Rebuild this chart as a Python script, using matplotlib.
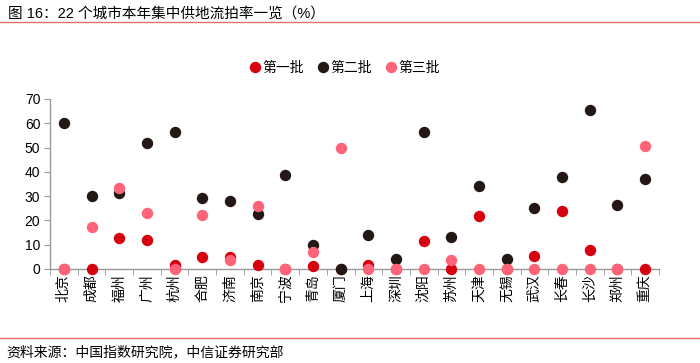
import numpy as np
import matplotlib
matplotlib.use("Agg")
import matplotlib.pyplot as plt
from matplotlib.lines import Line2D

plt.rcParams['font.family'] = ['Liberation Sans', 'Noto Sans CJK SC', 'DejaVu Sans']

# city list and the three batches (流拍率, %)
cities = ["北京", "成都", "福州", "广州", "杭州", "合肥", "济南", "南京", "宁波", "青岛", "厦门",
          "上海", "深圳", "沈阳", "苏州", "天津", "无锡", "武汉", "长春", "长沙", "郑州", "重庆"]
batch1 = [0, 0, 12.7, 12.0, 1.7, 5.1, 5.1, 1.7, 0, 1.4, 0,
          1.8, 0, 11.6, 0, 22.0, 0, 5.5, 23.7, 8.0, 0, 0]
batch2 = [60.3, 30.2, 31.5, 51.9, 56.3, 29.1, 28.0, 22.6, 38.8, 9.9, 0,
          14.2, 4.1, 56.5, 13.2, 34.0, 4.0, 25.2, 37.9, 65.3, 26.3, 36.9]
batch3 = [0, 17.1, 33.3, 23.1, 0, 22.4, 3.7, 26.0, 0, 7.2, 49.9,
          0, 0, 0, 3.6, 0, 0, 0, 0, 0, 0, 50.8]
series_names = ["第一批", "第二批", "第三批"]
colors = ["#D7000F", "#231815", "#FF6378"]

fig = plt.figure(figsize=(7, 3.63), dpi=100)
ax = fig.add_axes([50/700, 1-269/363, 609/700, 170/363])

x = np.arange(len(cities))
for vals, c in zip([batch1, batch2, batch3], colors):
    ax.plot(x, vals, 'o', color=c, markersize=8.2, markeredgewidth=0, clip_on=False, zorder=3)

ax.set_xlim(-0.5, len(cities) - 0.5)
ax.set_ylim(0, 70)
ax.set_yticks(range(0, 71, 10))
ax.set_xticks(x)
ax.set_xticklabels(cities, rotation=90, fontsize=10)
ax.set_xticks(np.arange(-0.5, len(cities)), minor=True)
ax.tick_params(axis='x', which='major', length=0, pad=4)
ax.tick_params(axis='x', which='minor', length=4, color='#999999', direction='out')
ax.tick_params(axis='y', length=4, color='#999999', labelsize=10, pad=3)

for s in ['top', 'right']:
    ax.spines[s].set_visible(False)
for s in ['left', 'bottom']:
    ax.spines[s].set_color('#999999')
    ax.spines[s].set_linewidth(1)

handles = [Line2D([], [], marker='o', linestyle='', color=c, markersize=8.2, markeredgewidth=0)
           for c in colors]
fig.legend(handles, series_names, loc='center', bbox_to_anchor=(344/700, 1-68/363), ncol=3,
           frameon=False, fontsize=10, handletextpad=0.0, columnspacing=0.9, handlelength=1.0)

fig.text(8/700, 1-14/363, "图 16：22 个城市本年集中供地流拍率一览（%）", fontsize=10.5,
         va='center', ha='left')
fig.add_artist(Line2D([0, 1], [1-22/363, 1-22/363], color='#E07070', linewidth=1))
fig.add_artist(Line2D([0, 1], [1-338/363, 1-338/363], color='#E07070', linewidth=1))
fig.text(6/700, 1-352/363, "资料来源：中国指数研究院，中信证券研究部", fontsize=10,
         va='center', ha='left')

fig.savefig("out.png", dpi=100)
